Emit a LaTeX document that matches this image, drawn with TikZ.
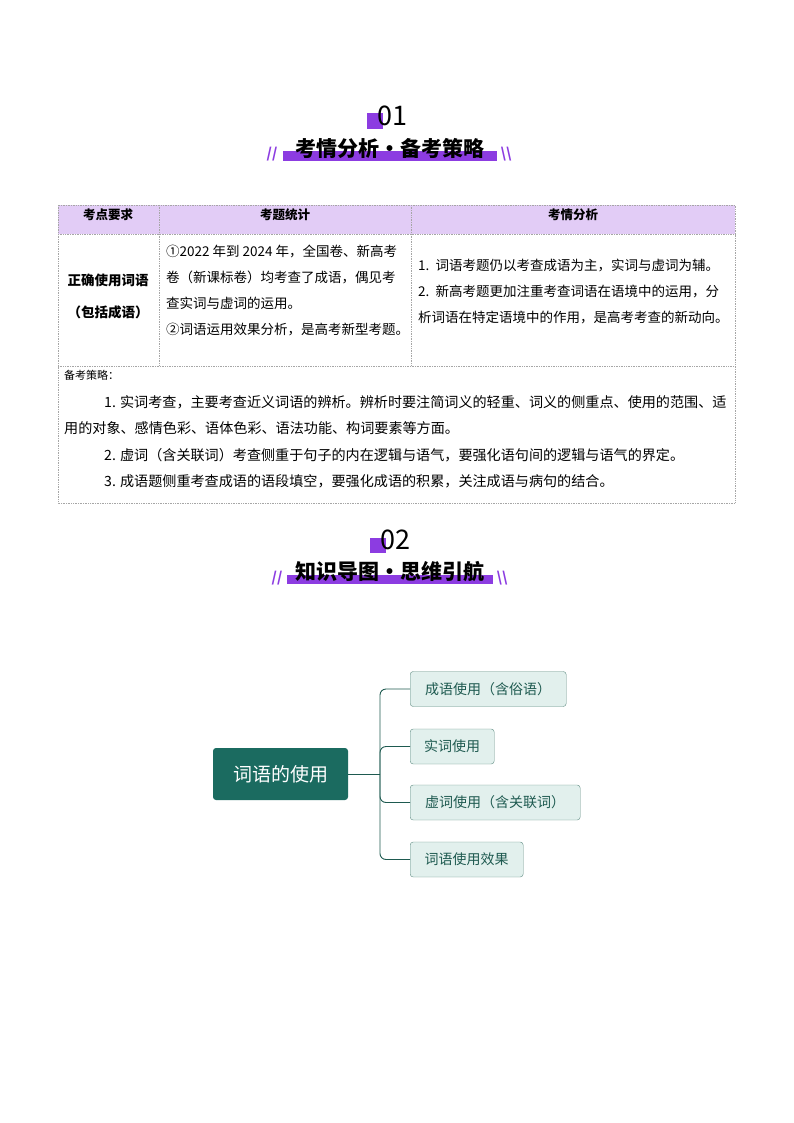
\documentclass[tikz,border=0pt]{standalone}
\usepackage{fontspec}
\setmainfont{Noto Sans CJK SC}
\definecolor{hdrbg}{RGB}{226,204,246}
\definecolor{purp}{RGB}{140,60,225}
\definecolor{rootc}{RGB}{27,107,96}
\definecolor{chf}{RGB}{226,240,237}
\definecolor{chd}{RGB}{95,140,130}
\definecolor{cht}{RGB}{30,90,80}
\begin{document}
\begin{tikzpicture}[x=1pt,y=-1pt,
  cell/.style={draw=gray!70,densely dotted,line width=0.7pt},
  hdr/.style={font=\fontsize{12.5}{14}\selectfont\bfseries},
  body/.style={font=\fontsize{13.5}{26}\selectfont,align=left,anchor=north west,inner sep=0pt},
  sq/.style={fill=purp,draw=none},
  bar/.style={fill=purp,draw=none},
  tit/.style={font=\fontsize{21}{24}\selectfont\bfseries},
  num/.style={font=\fontsize{27}{29}\selectfont},
  sl/.style={text=purp,font=\fontsize{14}{14}\selectfont\bfseries\itshape},
  root/.style={fill=rootc,draw=none,rounded corners=3pt,text=white,font=\fontsize{19}{21}\selectfont,minimum width=135pt,minimum height=52pt},
  child/.style={fill=chf,draw=chd,rounded corners=3pt,text=cht,font=\fontsize{14}{15}\selectfont,minimum height=35pt,anchor=west,inner xsep=12pt},
  conn/.style={draw=cht,line width=0.9pt,rounded corners=6pt}]
\useasboundingbox (0,0) rectangle (794,1123);
% heading 1
\fill[sq] (367,113) rectangle (383,129);
\node[num] (n1) at (392,116) {01};
\fill[bar] (283,151) rectangle (497,161);
\node[tit] (t1) at (390,148) {考情分析·备考策略};
\node[sl] (s1a) at (272,154) {//};
\node[sl] (s1b) at (506,154) {\textbackslash\textbackslash};
% table
\fill[hdrbg] (58,205) rectangle (735,234);
\draw[cell] (58,205) rectangle (735,503);
\draw[cell] (58,234) -- (735,234);
\draw[cell] (58,366) -- (735,366);
\draw[cell] (159,205) -- (159,366);
\draw[cell] (411,205) -- (411,366);
\node[hdr] (h1) at (108,215) {考点要求};
\node[hdr] (h2) at (285,215) {考题统计};
\node[hdr] (h3) at (573,215) {考情分析};
\node[font=\fontsize{13.5}{32}\selectfont\bfseries,align=center] (c1) at (108,296) {正确使用词语\\（包括成语）};
\node[body] (c2) at (166,245) {①2022 年到 2024 年，全国卷、新高考\\卷（新课标卷）均考查了成语，偶见考\\查实词与虚词的运用。\\②词语运用效果分析，是高考新型考题。};
\node[body] (c3) at (418,259) {1.\ \ 词语考题仍以考查成语为主，实词与虚词为辅。\\2.\ \ 新高考题更加注重考查词语在语境中的运用，分\\析词语在特定语境中的作用，是高考考查的新动向。};
\node[font=\fontsize{11}{12}\selectfont,anchor=north west,inner sep=0pt] (st) at (64,370) {备考策略：};
\node[body,font=\fontsize{14.1}{26.5}\selectfont] (sb) at (64,395) {\hspace*{40pt}1. 实词考查，主要考查近义词语的辨析。辨析时要注简词义的轻重、词义的侧重点、使用的范围、适\\用的对象、感情色彩、语体色彩、语法功能、构词要素等方面。\\\hspace*{40pt}2. 虚词（含关联词）考查侧重于句子的内在逻辑与语气，要强化语句间的逻辑与语气的界定。\\\hspace*{40pt}3. 成语题侧重考查成语的语段填空，要强化成语的积累，关注成语与病句的结合。};
% heading 2
\fill[sq] (370,538) rectangle (386,553);
\node[num] (n2) at (395,540) {02};
\fill[bar] (287,575) rectangle (493,584);
\node[tit] (t2) at (390,572) {知识导图·思维引航};
\node[sl] (s2a) at (277,578) {//};
\node[sl] (s2b) at (502,578) {\textbackslash\textbackslash};
% mind map
\node[root] (r) at (280.5,774) {词语的使用};
\node[child,minimum width=156pt] (a) at (410,689) {成语使用（含俗语）};
\node[child,minimum width=84pt] (b) at (410,746.5) {实词使用};
\node[child,minimum width=170pt] (c) at (410,802.5) {虚词使用（含关联词）};
\node[child,minimum width=113pt] (d) at (410,859.5) {词语使用效果};
\coordinate (j) at (380,774);
\draw[conn] (r.east) -- (j);
\draw[conn] (a.west) -| (j) |- (d.west);
\draw[conn] (b.west) -| (j);
\draw[conn] (c.west) -| (j);
\end{tikzpicture}
\end{document}
